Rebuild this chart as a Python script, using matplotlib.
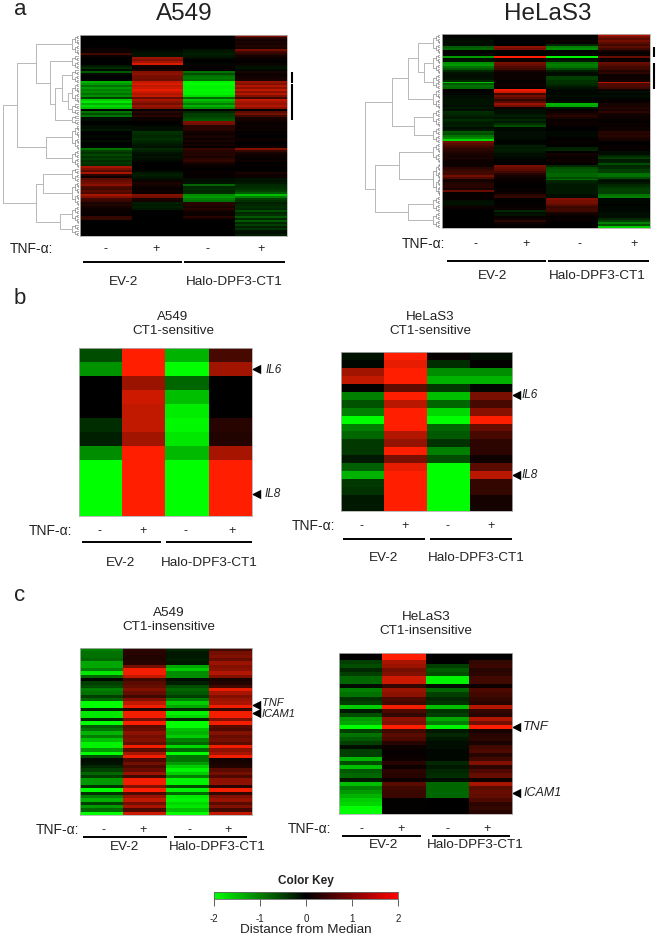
import numpy as np
import matplotlib
matplotlib.use('Agg')
import matplotlib.pyplot as plt
from matplotlib.colors import LinearSegmentedColormap

W, H = 660, 938
plt.rcParams['font.family'] = ['Liberation Sans', 'DejaVu Sans']

# filas: EV-2 -, EV-2 +, Halo -, Halo +
a_a549 = [
[0,0,0,1.0],[0,0,0,.35],[0,0,0,.15],[0,0,0,.2],[0,0,.02,.15],[0,0,0,.25],[.05,0,0,.2],[.1,-.05,-.15,.9],
[.1,-.1,-.2,.5],[.5,-.15,-.25,.35],[.1,-.15,-.2,.15],[0,1.2,-.1,.1],[0,1.0,0,.05],[0,1.3,0,0],[0,1.7,-.05,.1],
[-.2,.15,.05,-.1],[-.35,.1,.05,-.15],[-.1,.2,.05,-.05],[-.7,1.0,-.9,.2],[-.1,1.1,-.6,.1],[0,.95,-.9,.1],
[0,.9,-1.0,.15],[-.05,.85,-.9,.2],[-1.4,1.5,-1.9,1.2],[-1.2,1.7,-2,1.0],[-.9,1.5,-1.9,1.4],[-1.2,1.6,-1.9,1.1],
[-1.0,1.8,-1.95,1.5],[-1.1,1.6,-1.9,1.1],[-.9,1.4,-1.9,1.4],[-1.1,1.5,-1.7,1.0],[-.5,.8,-.8,.5],[-1.6,1.3,-1.5,1.5],
[-1.8,1.1,-1.3,1.3],[-1.4,.9,-1.0,1.2],[-1.7,1.2,-1.4,1.4],[-1.5,1.0,-1.1,1.1],[0,0,0,0],[-.9,.3,-.3,.7],
[-.6,.2,-.5,.9],[-.9,.3,-.5,.5],[-.1,.1,-.6,.2],[-.1,.1,-.7,.15],[0,0,1.0,.1],[0,0,.9,.05],[-.1,-.05,.3,.1],
[-.1,-.1,.35,.05],[-.2,-.1,.3,.1],[0,-.4,.15,0],[0,-.35,.1,.05],[-.05,-.3,.2,0],[0,-.4,.1,.1],[-.1,-.3,.2,.05],
[0,-.25,.1,0],[0,-.2,.15,.05],[-.05,-.15,.05,.1],[-.9,-.3,.4,1.0],[-.5,-.25,.3,.4],[-.4,-.15,.25,.2],[-.55,-.1,.3,.1],
[-.4,-.15,.2,.1],[-.5,-.1,.35,.05],[-.35,-.05,.4,.1],[-.45,0,.2,0],[-.35,0,.1,.05],[1.3,0,.05,0],[1.0,0,0,0],
[.7,-.05,.05,.05],[1.3,-.2,.05,.2],[.3,-.25,.05,.1],[.1,-.2,.05,.1],[.7,-.1,-.1,-.15],[.8,.1,-.1,-.15],[.9,.2,-.15,-.2],
[1.1,.15,-.8,-.3],[.6,.1,-.3,-.35],[.5,.05,-.35,-.4],[.7,.1,-.3,-.5],[.6,.1,-.35,-.7],[1.3,1.0,-1.1,-1.5],[1.0,.9,-1.2,-1.0],
[.5,.2,-1.0,-.5],[.45,.15,-.9,-.4],[.2,-.25,.3,-.25],[.25,-.2,.3,-.3],[.15,-.25,.2,-.35],[.1,-.2,.3,-.3],[.1,0,.15,-.6],
[.05,0,.1,-.3],[.05,0,.1,-.4],[.4,0,.3,-.7],[.4,0,.1,-.3],[0,0,0,-.7],[0,0,0,-.3],[0,0,0,-.5],[0,0,0,-.25],[0,0,0,-.4],
[0,0,0,-.15],[0,0,0,-.1],[0,0,0,-.25],
]
a_hela = [
[0,0,0,1.4],[0,0,0,.9],[-.05,0,0,.7],[-.1,0,.1,.9],[-.1,0,.05,.7],[-.1,0,-.3,.5],[-.7,1.1,-1.0,.7],[-.8,.9,-1.1,.5],
[0,0,0,.15],[0,0,0,.05],[-.05,0,-.05,.1],[-1.2,2,-1.9,.8],[-.1,.1,-.1,.05],[-.15,.1,-.2,.1],
[-1.1,.9,-.9,.8],[-1.2,.8,-1.0,.7],[-.9,.6,-.9,.5],[-.7,.5,-.6,.5],[-.3,.2,-.25,.25],[-.15,.1,-.1,.35],[-.1,.08,-.1,.1],
[-.1,.08,-.5,.1],[-.15,.08,-.5,.1],[-.3,.06,-.4,.15],[-1.5,.05,-.4,1.4],[-.7,.08,-.35,.6],[-.9,.1,-.25,.6],[-.8,.06,-.15,.5],
[.02,1.9,-.05,.1],[.02,1.6,-.05,-.1],[-.05,.5,-.05,-.05],[-.1,.9,-.1,-.1],[-.1,.7,-.05,-.05],[-.15,.4,-.05,.05],[-.15,.7,-.1,.05],
[-.15,1.2,-1.4,.2],[-.1,.9,-1.3,.2],[-.2,.1,-.2,.25],[-.1,-.1,.05,.2],
[-.35,-.1,.1,.35],[-.3,-.15,.2,.15],[-.25,-.25,.3,.1],[-.2,-.15,.2,.1],[-.35,-.3,.05,.05],[-.25,-.2,.1,.03],[-.2,-.4,.1,.1],[-.25,-.6,.05,.05],
[-.1,-.1,0,.1],[-.2,-.05,0,.1],[-.7,-.1,-.05,.3],[-.6,-.1,-.05,.25],[-.9,-.1,-.05,.35],[-1.1,-.1,.02,.2],[-1.7,-.05,.02,.15],
[.9,-.03,.05,.02],[.7,-.05,.02,0],[.55,-.25,.02,.05],[.4,-.2,-.25,.05],[.35,-.25,-.3,.05],[.25,-.2,0,-.1],[.2,-.1,.15,-.1],[.15,-.1,.1,-.3],
[.2,-.05,.05,-.5],[.12,.02,.1,-.2],[.1,0,.1,-.25],[.1,.02,0,-.6],
[.1,.9,-.3,-.3],[.3,.8,-.6,-.35],[.4,.7,-.7,-.5],[.5,.5,-.7,-.5],[.5,.3,-.8,-.9],[.9,.15,-.8,-.9],[.6,.1,-.6,-.6],
[.2,.05,-.8,-.2],[.15,.05,-.3,-.1],[.25,.02,-.25,-.2],[.3,.02,-.2,-.3],[.3,0,-.2,-.4],[.2,.05,-.2,-.5],[.8,.05,-.2,-.5],
[.05,.1,-.2,-.5],[.05,.3,-.1,-.9],[.05,.4,-.1,-1.0],
[.05,.02,1.0,-.05],[-.1,.02,.9,-.05],[-.15,.02,.9,-.05],[-.1,.05,.7,0],[.1,.05,.45,-.05],[.05,.1,.5,-.05],[0,-.3,.5,-.05],
[0,-.1,.2,-.1],[0,-.15,.1,-.1],[0,.05,.05,-.1],[0,.1,.05,-.3],[0,.35,.05,-.5],[0,.1,0,-1.0],[0,.05,0,-.6],[0,.02,0,-1.6],
]
b_a549 = [
[-.6,2,-1.4,.55],[-1.15,2,-2,1.25],[0,1.2,-.8,0],[0,1.6,-1.5,0],[0,1.5,-1.85,0],[-.35,1.5,-1.95,.3],
[-.25,1.25,-1.8,.25],[-1.1,2,-1.45,1.3],[-2,2,-2,2],[-2,2,-2,2],[-2,2,-2,2],[-2,2,-2,2],
]
b_hela = [
[-.15,2,.05,-.1],[-.05,1.8,-.35,.02],[1.25,2,-1.1,-1.1],[1.5,2,-1.4,-1.4],[.02,.75,-.45,-.05],[-1,2,-1.5,.95],[-.65,1.45,-.8,.55],
[-1,2,-1.7,1.05],[-2,2,-2,2],[-1,2,-.8,.8],[-.8,1.4,-.7,.55],[-.45,1.15,-.4,.35],[-.45,2,-1,.35],[-.2,.95,-.6,.12],
[-.75,1.8,-2,.7],[-1.4,2,-2,1.45],[-.45,2,-2,.4],[-.4,2,-2,.4],[-.2,2,-2,.15],[-.2,2,-2,.15],
]
c_a549 = [
[-1.0,.35,-.3,.5],[-.9,.3,-.2,.9],[-.9,.25,-.2,1.0],[-.8,.25,-.25,.8],[-1.3,.3,-.2,1.2],[-1.3,.9,-1.3,1.0],[-1.0,1.9,-1.6,1.1],
[-1.8,1.9,-1.1,1.4],[-.8,1.5,-1.1,1.0],[-.05,.5,-.1,.2],[-.5,.7,-.25,.25],[-.6,.8,-.6,.5],[-1.0,1.0,-.8,1.8],[-.9,.8,-.7,1.3],
[-.5,.5,-.5,1.0],[-.8,1.0,-1.0,1.2],[-2,1.5,-1.6,1.3],[-2,1.9,-1.3,1.9],[-.3,.3,-.3,.4],[-1.8,1.9,-1.9,1.9],[-1.8,1.9,-1.7,1.9],
[-.3,.9,-.3,1.0],[-2,2,-2,1.9],[-.7,.7,-2,.7],[-.9,.8,-1.5,.6],[-1.4,1.1,-1.4,1.0],[-1.0,.9,-1.6,.8],[-1.5,1.0,-1.0,.9],
[-1.9,.8,-.8,.7],[-1.9,1.9,-1.7,1.9],[-1.2,.7,-.8,1.1],[-2,1.3,-2,1.3],[-.6,1.9,-.9,1.9],[-.1,.6,-.9,.15],[-.15,.9,-1.2,.2],
[-.3,.6,-1.6,.25],[-.5,.8,-1.9,.7],[-.8,1.2,-1.6,.9],[-.5,.5,-1.0,.6],[-1.2,1.9,-1.9,1.1],[-1.2,1.9,-1.9,1.1],[-.4,1.0,-.6,.3],
[-2,2,-1.9,1.9],[-.4,.6,-.8,.4],[-1.0,1.2,-1.8,1.0],[-1.4,1.5,-1.9,1.2],[-.5,.9,-1.7,.7],[-1.2,1.3,-1.8,1.0],[-.8,.6,-1.5,.5],[-2,1.6,-2,1.5],
]
c_hela = [
[0,2,0,0],[0,2,0,0],[-.5,1.3,0,.4],[-.6,1.2,-.5,.45],[-.3,.9,-.7,.3],[-.5,1.0,-.6,.35],[-.8,1.6,-1.9,.5],[-.8,1.6,-1.9,.5],
[-.1,.4,-.1,.1],[-1.0,1.2,-.8,.6],[-.9,1.1,-.5,.5],[-.4,.6,-.3,.4],[-.5,.5,-.4,.3],[-1.6,1.9,-1.5,1.4],[-.2,.6,-.4,.4],
[-.6,.4,-.5,.3],[-1.2,1.1,-1.3,1.4],[-1.3,1.0,-1.0,.9],[-2,2,-1.9,2],[-.5,.5,-.2,.2],[-.9,.7,-.3,.3],[-.7,.6,-.2,.35],
[-.5,.3,-.1,.2],[-.1,.1,-.1,.5],[-.5,.05,-.05,.6],[-.5,.05,-.05,.3],[-1.4,.1,-.05,.5],[-.6,.3,-.3,1.0],[-1.5,.1,-.2,.35],
[-.7,.35,-.3,.6],[-.8,.3,-.35,.8],[-.2,.1,-.1,.1],[-1.5,.7,-.8,1.3],[-1.0,.5,-.8,.7],[-1.2,.45,-.8,.8],[-1.4,.45,-.8,.75],
[-1.6,.02,0,.6],[-1.7,.02,0,.35],[-2,.02,0,.4],[-2,.02,0,.3],
]

key_ticks = [-2, -1, 0, 1, 2]

# arbol: (altura, hijo, hijo), las hojas son numero de filas
tree_a549 = (1.0,
    (.81,
        (.56, 10, (.38, 7, (.31, (.22, 7, (.14, 10, 6)), 5))),
        (.43, (.28, 12), (.25, 9))),
    (.56,
        (.47, (.27, 7), (.2, 12)),
        (.25, 9, 6)))
tree_hela = (1.0,
    (.64,
        (.43, (.3, 10, (.22, 10, 8)), (.16, 10)),
        (.35, (.17, 9), (.15, 8))),
    (.87,
        (.55, (.3, 10), (.22, 17)),
        (.43, (.2, 8), (.18, 8))))

green_red = LinearSegmentedColormap.from_list('gr', [(0, 1, 0), (0, 0, 0), (1, .125, 0)])
key_cmap = LinearSegmentedColormap.from_list('key', [(0, 1, 0), (0, 0, 0), (1, 0, 0)])

fig = plt.figure(figsize=(W / 100, H / 100), dpi=100)

def px_axes(x0, y0, x1, y1):
    return fig.add_axes([x0 / W, 1 - y1 / H, (x1 - x0) / W, (y1 - y0) / H])

page = fig.add_axes([0, 0, 1, 1])
page.set_xlim(0, W)
page.set_ylim(H, 0)
page.axis('off')

def heat(data, x0, y0, x1, y1):
    ax = px_axes(x0, y0, x1, y1)
    ax.imshow(np.array(data), cmap=green_red, vmin=-2, vmax=2, aspect='auto', interpolation='nearest')
    ax.set_xticks([])
    ax.set_yticks([])
    for s in ax.spines.values():
        s.set_color('#b0b0b0')
        s.set_linewidth(0.6)
    return ax

def labels(tx, ty, signs, sy, line_y, l1, l2, ev_x, halo_x, name_y, size=9.7):
    page.text(tx, ty, 'TNF-α:', fontsize=size + .3, ha='left', va='center', color='#222222')
    for x, s in zip(signs, '-+-+'):
        page.text(x, sy, s, fontsize=size - .7, ha='center', va='center', color='#222222')
    page.plot(l1, [line_y, line_y], color='black', lw=1.4, solid_capstyle='butt')
    page.plot(l2, [line_y, line_y], color='black', lw=1.4, solid_capstyle='butt')
    page.text(ev_x, name_y, 'EV-2', fontsize=size, ha='center', va='center', color='#222222')
    page.text(halo_x, name_y, 'Halo-DPF3-CT1', fontsize=size, ha='center', va='center', color='#222222')

def arrow(x, y, txt, tx, ty, size=8.5):
    page.scatter([x], [y], marker='<', s=46, color='black', linewidths=0, zorder=3)
    page.text(tx, ty, txt, fontsize=size, style='italic', ha='left', va='center', color='#222222')

# dibuja el arbol y devuelve (y, altura) de cada nodo
def draw_comb(ax, start, n, h):
    if n == 1:
        return start + 0.5, 0.0
    izq = n // 2
    y1, h1 = draw_comb(ax, start, izq, h * .6)
    y2, h2 = draw_comb(ax, start + izq, n - izq, h * .6)
    ax.plot([h1, h, h, h2], [y1, y1, y2, y2], color='#808080', lw=0.45)
    return (y1 + y2) / 2, h

def draw_tree(ax, node, start):
    if isinstance(node, int):
        y, h = draw_comb(ax, start, node, .09)
        return y, h, start + node
    y, h, end = draw_tree(ax, node[1], start)
    if len(node) == 2:
        # solo un hijo: el grupo de hojas cuelga de esta altura
        ax.plot([h, node[0]], [y, y], color='#b8b8b8', lw=0.7)
        return y, node[0], end
    y2, h2, end = draw_tree(ax, node[2], end)
    ax.plot([h, node[0], node[0], h2], [y, y, y2, y2], color='#b8b8b8', lw=0.7)
    return (y + y2) / 2, node[0], end

def dendro(tree, x0, y0, x1, y1):
    ax = px_axes(x0, y0, x1, y1)
    n = draw_tree(ax, tree, 0)[2]
    ax.set_xlim(1, 0)
    ax.set_ylim(n, 0)
    ax.axis('off')

# panel a
heat(a_a549, 80, 35, 287, 236)
heat(a_hela, 442, 34, 650, 228)
dendro(tree_a549, 3, 35, 79, 236)
dendro(tree_hela, 365, 34, 440, 228)
page.text(20, 15, 'a', fontsize=16, ha='center', va='baseline', color='#222222')
page.text(184, 14, 'A549', fontsize=17.5, ha='center', va='center', color='#222222')
page.text(548, 14, 'HeLaS3', fontsize=17.5, ha='center', va='center', color='#222222')
page.plot([292, 292], [72, 83], color='black', lw=1.5, solid_capstyle='butt')
page.plot([292, 292], [84, 120], color='black', lw=1.5, solid_capstyle='butt')
page.plot([654, 654], [47, 57], color='black', lw=1.5, solid_capstyle='butt')
page.plot([654, 654], [63, 89], color='black', lw=1.5, solid_capstyle='butt')
labels(10, 249, [106, 156, 207, 261], 249, 262, [83, 182], [184, 285], 124, 234, 282)
labels(402, 244, [476, 526, 580, 634], 244, 261, [447, 546], [548, 649], 493, 597, 276)

# panel b
heat(b_a549, 79, 348, 252, 516)
heat(b_hela, 341, 352, 512, 511)
page.text(20, 304, 'b', fontsize=16, ha='center', va='baseline', color='#222222')
page.text(173, 324, 'A549\nCT1-sensitive', fontsize=9.6, ha='center', va='center', linespacing=1.2, color='#222222')
page.text(430, 324, 'HeLaS3\nCT1-sensitive', fontsize=9.6, ha='center', va='center', linespacing=1.2, color='#222222')
labels(29, 531, [100, 143, 185, 232], 531, 542, [82, 161], [166, 252], 121, 209, 563)
labels(292, 526, [362, 405, 448, 491], 526, 539, [343, 425], [430, 512], 384, 476, 558)
arrow(256, 369, 'IL6', 266, 370)
arrow(256, 494, 'IL8', 265, 494)
arrow(516, 395, 'IL6', 522, 395)
arrow(516, 475, 'IL8', 522, 475)

# panel c
heat(c_a549, 80, 648, 252, 815)
heat(c_hela, 339, 653, 512, 814)
page.text(20, 601, 'c', fontsize=16, ha='center', va='baseline', color='#222222')
page.text(169, 620, 'A549\nCT1-insensitive', fontsize=9.7, ha='center', va='center', linespacing=1.2, color='#222222')
page.text(426, 624, 'HeLaS3\nCT1-insensitive', fontsize=9.7, ha='center', va='center', linespacing=1.2, color='#222222')
labels(36, 830, [103, 143, 189, 228], 830, 837, [83, 167], [174, 247], 125, 217, 847)
labels(288, 829, [362, 401, 448, 487], 829, 836, [342, 421], [432, 510], 384, 475, 845)
arrow(256, 705, 'TNF', 262, 703, size=8)
arrow(256, 713, 'ICAM1', 262, 714, size=8)
arrow(516, 727, 'TNF', 523, 727, size=9.5)
arrow(516, 793, 'ICAM1', 523, 793, size=9)

# color key
key = px_axes(214, 892, 398, 899)
grad = np.linspace(key_ticks[0], key_ticks[-1], 256).reshape(1, -1)
key.imshow(grad, cmap=key_cmap, vmin=-2, vmax=2, aspect='auto', extent=[-2, 2, 0, 1])
key.set_yticks([])
key.set_xticks(key_ticks)
key.set_xticklabels([str(t) for t in key_ticks], fontsize=7)
key.tick_params(axis='x', length=5, width=0.6, pad=6, color='#444444', labelcolor='#222222')
for s in key.spines.values():
    s.set_color('#666666')
    s.set_linewidth(0.6)
page.text(306, 881, 'Color Key', fontsize=8.5, fontweight='bold', ha='center', va='center', color='#222222')
page.text(306, 930, 'Distance from Median', fontsize=9.7, ha='center', va='center', color='#222222')

plt.savefig('out.png', dpi=100)
